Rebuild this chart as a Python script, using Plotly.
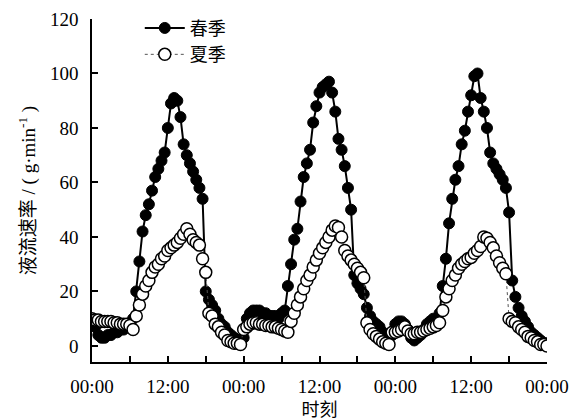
import plotly.graph_objects as go

# time in hours (half-hour sampling over three days)
hours = [i * 0.5 for i in range(145)]

spring = [
    8, 7, 4, 3, 3, 4, 4, 5, 5, 6, 6, 7,
    8, 10, 20, 31, 42, 48, 52, 57, 62, 65, 68, 71,
    80, 89, 91, 90, 84, 74, 70, 67, 64, 61, 58, 54,
    20, 17, 15, 13, 10, 8, 7, 5, 4, 3, 2, 1,
    3, 10, 12, 13, 13, 13, 12, 12, 11, 11, 11, 10,
    12, 13, 22, 30, 39, 43, 53, 62, 67, 72, 82, 88,
    93, 95, 96, 97, 93, 86, 76, 72, 66, 58, 50, 26,
    23, 21, 19, 14, 11, 9, 8, 7, 5, 4, 3, 4,
    8, 9, 9, 8, 6, 3, 2, 3, 4, 6, 8, 9,
    10, 10, 12, 22, 32, 45, 54, 61, 66, 74, 79, 86,
    92, 99, 100, 91, 86, 80, 71, 67, 65, 63, 61, 58,
    49, 24, 18, 14, 11, 9, 7, 5, 4, 3, 2, 1,
    1,
]

summer = [
    10, 9.5, 9.5, 9, 9, 9, 9, 8.5, 8.5, 8, 8, 8,
    7.5, 6, 11, 15, 19, 22, 24, 27, 29, 30, 32, 33,
    35, 36, 37, 38, 39.5, 41, 43, 41, 39, 38, 37, 32,
    27, 12, 11, 8, 7, 5, 4, 2, 1.5, 1, 1, 0.5,
    6, 7, 8, 8.5, 8.5, 8, 8, 7.5, 7.5, 7, 7, 6.5,
    6, 5.5, 5, 9, 12, 15, 18, 21, 24, 26, 29, 31.5,
    34, 36, 38, 40, 42.5, 44, 43.5, 40, 35, 33, 31.5, 30,
    28.5, 27, 25, 8.5, 6, 4.5, 3.5, 2.5, 1.5, 1, 0.5, 5,
    5, 5.5, 6, 7, 5.5, 4.5, 4.5, 5, 5, 5.5, 6, 6.5,
    7, 7.5, 8.5, 13, 18, 21, 24, 26, 28.5, 30, 31, 32,
    32.5, 34, 35, 36.5, 40, 39.5, 38, 36, 33, 30.5, 28.5, 26.5,
    10, 9, 8.5, 7, 6, 5, 3.5, 3, 2, 1.5, 0.5, 0.5,
    0,
]

x_tickvals = [0, 12, 24, 36, 48, 60, 72]
x_ticktext = ["00:00", "12:00", "00:00", "12:00", "00:00", "12:00", "00:00"]
y_tickvals = [0, 20, 40, 60, 80, 100, 120]

names = ["春季", "夏季"]

FONT = "Liberation Serif, Noto Sans CJK SC, serif"

fig = go.Figure()
fig.add_trace(go.Scatter(
    x=hours, y=spring, name=names[0], mode="lines+markers",
    line=dict(color="black", width=2),
    marker=dict(symbol="circle", size=11, color="black", line=dict(color="black", width=1)),
))
fig.add_trace(go.Scatter(
    x=hours, y=summer, name=names[1], mode="lines+markers",
    line=dict(color="#555555", width=1, dash="dot"),
    marker=dict(symbol="circle", size=12, color="white", line=dict(color="black", width=1.5)),
))

fig.update_layout(
    width=580, height=420,
    margin=dict(l=92, r=33, t=19, b=58, pad=0, autoexpand=False),
    paper_bgcolor="white", plot_bgcolor="white",
    font=dict(family=FONT, color="black", size=18),
    showlegend=True,
    legend=dict(x=0.105, y=1.027, xanchor="left", yanchor="top",
                bgcolor="rgba(0,0,0,0)", font=dict(size=18, family=FONT),
                tracegroupgap=0, itemwidth=40),
    xaxis=dict(
        range=[0, 72], showline=True, linecolor="black", linewidth=1.5,
        ticks="inside", ticklen=6, tickwidth=1.5, tickcolor="black",
        tickvals=x_tickvals, ticktext=x_ticktext,
        minor=dict(tickvals=[6, 18, 30, 42, 54, 66], ticks="inside", ticklen=6,
                   tickwidth=1.5, tickcolor="black", showgrid=False),
        tickfont=dict(size=19, family=FONT), ticklabelstandoff=6,
        showgrid=False, zeroline=False, automargin=False,
        title=dict(text="时刻", font=dict(size=18, family=FONT), standoff=10),
    ),
    yaxis=dict(
        range=[-5.9, 120], showline=True, linecolor="black", linewidth=1.5,
        ticks="inside", ticklen=6, tickwidth=1.5, tickcolor="black",
        tickvals=y_tickvals, tickfont=dict(size=19, family=FONT), ticklabelstandoff=8,
        showgrid=False, zeroline=False, automargin=False,
        title=dict(text="液流速率 / ( g·min<sup>-1</sup> )", font=dict(size=19, family=FONT), standoff=9),
    ),
)

fig.write_html("out.html")
